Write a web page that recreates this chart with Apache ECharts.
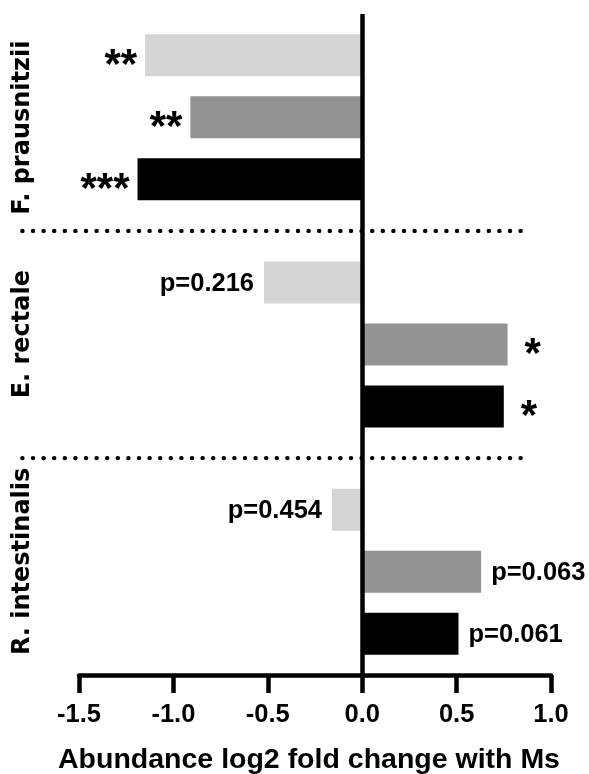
<!DOCTYPE html>
<html><head><meta charset="utf-8">
<script src="https://cdn.jsdelivr.net/npm/echarts@6/dist/echarts.min.js"></script>
<style>html,body{margin:0;padding:0;background:#fff}#c{width:589px;height:774px}</style>
</head><body><div id="c"></div>
<script>
// ---- data ----
const groups = ['F. prausnitzii', 'E. rectale', 'R. intestinalis'];
const seriesNames = ['Condition 1', 'Condition 2', 'Condition 3'];
const valuesLight = [-1.15, -0.52, -0.16];
const valuesMid = [-0.91, 0.77, 0.63];
const valuesDark = [-1.19, 0.75, 0.51];
const labelsLight = ['**', 'p=0.216', 'p=0.454'];
const labelsMid = ['**', '*', 'p=0.063'];
const labelsDark = ['***', '*', 'p=0.061'];
const xTicks = [-1.5, -1.0, -0.5, 0.0, 0.5, 1.0];
const xTitle = 'Abundance log2 fold change with Ms';

// ---- layout of category slots (half-slot grid) ----
const FIRST = 4, IN_GROUP = 6, GROUP_STEP = 22, NSLOTS = 65;
const GROUP_LABEL_SHIFT = [1, -1, -1];
const SEP_X = [-1.8, 0.89];
const slots = Array.from({length: NSLOTS}, (_, i) => 's' + i);
const slotOf = (g, k) => FIRST + g * GROUP_STEP + k * IN_GROUP;
const groupLabelSlot = {};
groups.forEach((g, i) => { groupLabelSlot['s' + (slotOf(i, 1) + GROUP_LABEL_SHIFT[i])] = g; });
const sepSlots = [];
for (let g = 0; g < groups.length - 1; g++) sepSlots.push(slotOf(g, 2) + (GROUP_STEP - 2 * IN_GROUP) / 2);

const FONT = 'Liberation Sans, Arial, sans-serif';
const colors = ['#d5d5d5', '#939393', '#000000'];
const allValues = [valuesLight, valuesMid, valuesDark];
const allLabels = [labelsLight, labelsMid, labelsDark];

function buildSeries(k) {
  const data = slots.map(() => '-');
  allValues[k].forEach((v, g) => {
    const txt = allLabels[k][g];
    const star = txt.startsWith('*');
    data[slotOf(g, k)] = {
      value: v,
      label: {
        show: true,
        formatter: txt,
        position: v < 0 ? 'left' : 'right',
        distance: star ? (v < 0 ? 8 : 17) : 10,
        fontSize: star ? 42 : 25.5,
        fontWeight: 'bold',
        fontFamily: FONT,
        color: '#000',
        offset: star ? [0, 11] : [0, 1]
      }
    };
  });
  return {
    type: 'bar', name: seriesNames[k], data: data,
    barWidth: 42, barGap: '-100%',
    itemStyle: {color: colors[k]},
    silent: true, animation: false
  };
}

const series = [0, 1, 2].map(buildSeries);
series[0].markLine = {
  silent: true, symbol: 'none', animation: false,
  label: {show: false},
  data: [{xAxis: 0, lineStyle: {color: '#000', width: 4.5, type: 'solid'}}]
};
sepSlots.forEach(s => {
  series.push({
    type: 'line', silent: true, animation: false, clip: false,
    symbol: 'none', z: 1,
    data: [[SEP_X[0], 's' + s], [SEP_X[1], 's' + s]],
    lineStyle: {color: '#000', width: 4.4, type: [0.1, 10.5], cap: 'round'}
  });
});

const chart = echarts.init(document.getElementById('c'), null, {renderer: 'canvas'});
chart.setOption({
  backgroundColor: '#fff',
  animation: false,
  grid: {left: 79, right: 38, top: 14, bottom: 99, containLabel: false, outerBoundsMode: 'none'},
  xAxis: {
    type: 'value',
    min: xTicks[0], max: xTicks[xTicks.length - 1], interval: xTicks[1] - xTicks[0],
    axisLine: {show: true, lineStyle: {color: '#000', width: 4.5}},
    axisTick: {show: true, length: 18, lineStyle: {color: '#000', width: 4.5}},
    splitLine: {show: false},
    axisLabel: {
      margin: 27, fontSize: 25.5, fontWeight: 'bold', color: '#000', fontFamily: FONT,
      formatter: v => v.toFixed(1)
    },
    name: xTitle, nameLocation: 'middle', nameGap: 71,
    nameTextStyle: {fontSize: 28.5, fontWeight: 'bold', color: '#000',
      fontFamily: FONT, padding: [0, 12, 0, 0]}
  },
  yAxis: {
    type: 'category', data: slots, inverse: true, boundaryGap: false,
    axisLine: {show: false}, axisTick: {show: false}, splitLine: {show: false},
    axisLabel: {
      interval: 0, rotate: 90, margin: 44, fontSize: 24, fontWeight: 'bold', color: '#000',
      fontFamily: 'DejaVu Sans, sans-serif',
      formatter: v => groupLabelSlot[v] || ''
    }
  },
  series: series
});
</script>
</body></html>
